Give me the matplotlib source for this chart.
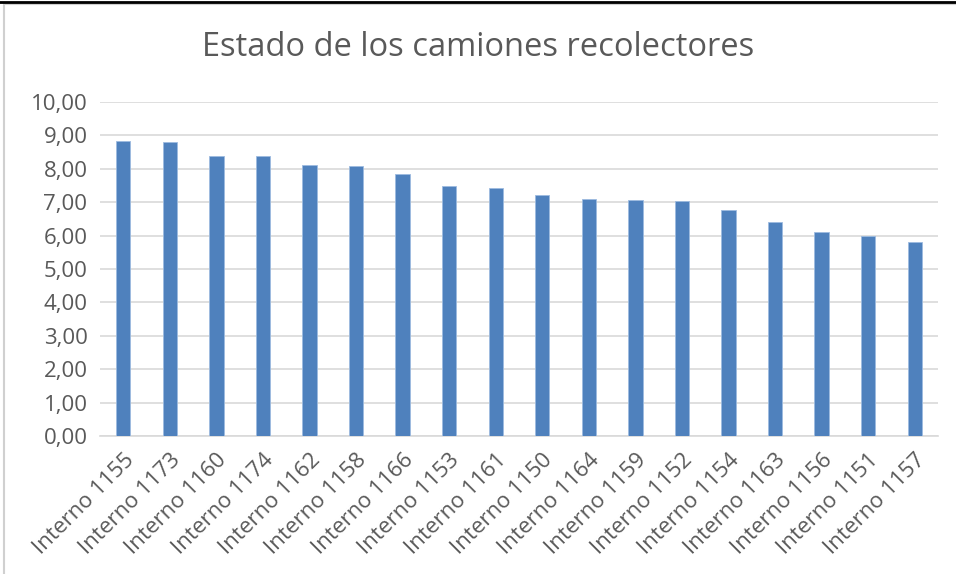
import matplotlib.pyplot as plt
from matplotlib.patches import Rectangle
from matplotlib.lines import Line2D

plt.rcParams['font.family'] = ['Open Sans', 'DejaVu Sans']

camiones = ["Interno 1155", "Interno 1173", "Interno 1160", "Interno 1174", "Interno 1162",
            "Interno 1158", "Interno 1166", "Interno 1153", "Interno 1161", "Interno 1150",
            "Interno 1164", "Interno 1159", "Interno 1152", "Interno 1154", "Interno 1163",
            "Interno 1156", "Interno 1151", "Interno 1157"]
estado = [8.83, 8.81, 8.38, 8.37, 8.11, 8.08, 7.84, 7.48, 7.43, 7.23,
          7.09, 7.07, 7.04, 6.78, 6.40, 6.10, 5.98, 5.82]
ticks_y = [0, 1, 2, 3, 4, 5, 6, 7, 8, 9, 10]

fig = plt.figure(figsize=(9.56, 5.74), dpi=100)
ax = fig.add_axes([100 / 956, 138 / 574, 838 / 956, 334 / 574])

x = range(len(camiones))
ax.bar(x, estado, width=0.31, color="#4f81bd", edgecolor="#9dbbe0", linewidth=0.6, zorder=3)

ax.set_ylim(0, 10)
ax.set_xlim(-0.5, len(camiones) - 0.5)
ax.set_yticks(ticks_y)
ax.set_yticklabels([f"{v:.2f}".replace(".", ",") for v in ticks_y], fontsize=16, color="#595959")
ax.set_xticks(list(x))
ax.set_xticklabels(camiones, rotation=45, ha="right", rotation_mode="anchor",
                   fontsize=16, color="#595959")
ax.tick_params(axis="y", length=0, pad=9)
ax.tick_params(axis="x", length=0, pad=10)
ax.grid(axis="y", color="#d9d9d9", linewidth=1.2, zorder=0)
for s in ["top", "right", "left"]:
    ax.spines[s].set_visible(False)
ax.spines["bottom"].set_color("#d9d9d9")
ax.spines["bottom"].set_linewidth(1.2)

fig.text(0.5, 1 - 47 / 574, "Estado de los camiones recolectores", ha="center", va="center",
         fontsize=23.5, color="#595959")

# marco del gráfico
fig.patches.append(Rectangle((4 / 956, -0.01), 1.0, 1 - 4 / 574 + 0.01, transform=fig.transFigure,
                             fill=False, edgecolor="#d0d0d0", linewidth=1.5))
fig.lines.append(Line2D([0, 1], [1 - 1.5 / 574, 1 - 1.5 / 574], transform=fig.transFigure,
                        color="black", linewidth=2))

fig.savefig("out.png", dpi=100)
